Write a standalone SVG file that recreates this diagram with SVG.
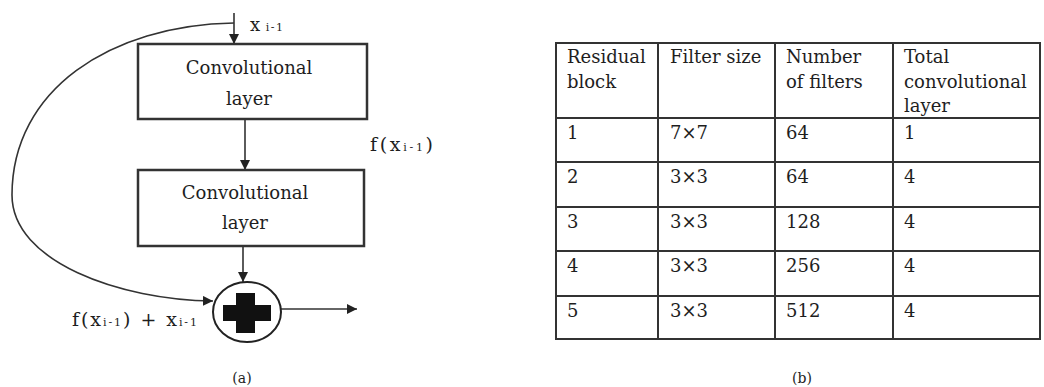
<svg xmlns="http://www.w3.org/2000/svg" width="1044" height="387" viewBox="0 0 1044 387">
<style>
  .t { font-family: "DejaVu Serif", "Liberation Serif", serif; fill: #1e1e1e; }
  .box { fill: #fff; stroke: #333; stroke-width: 2.5; }
  .ln { fill: none; stroke: #333; stroke-width: 1.6; }
  .grid { stroke: #333; stroke-width: 2; fill: none; }
</style>
<defs>
  <marker id="ah" viewBox="0 0 10 10" refX="10" refY="5" markerWidth="10" markerHeight="10" markerUnits="userSpaceOnUse" orient="auto">
    <path d="M0,0 L10,5 L0,10 z" fill="#222"/>
  </marker>
</defs>
<rect width="1044" height="387" fill="#fff"/>

<g id="connectors">
  <path class="ln" d="M234,13 L234,44" marker-end="url(#ah)"/>
  <path class="ln" d="M234,23 C110,25 12,90 12,195 C12,262 120,300 213,301" marker-end="url(#ah)"/>
  <path class="ln" d="M245,120 L245,170" marker-end="url(#ah)"/>
  <path class="ln" d="M243,246 L243,282" marker-end="url(#ah)"/>
  <path class="ln" d="M281,309 L357,309" marker-end="url(#ah)"/>
</g>

<g id="input-label">
  <text class="t" x="250" y="31" font-size="18" textLength="33" lengthAdjust="spacing">x<tspan font-size="11" dx="4">i-1</tspan></text>
</g>

<g id="conv1">
  <rect class="box" x="138" y="44" width="229" height="75"/>
  <text class="t" x="249" y="74" font-size="18" text-anchor="middle">Convolutional</text>
  <text class="t" x="249" y="105" font-size="18" text-anchor="middle">layer</text>
</g>

<g id="fx-label">
  <text class="t" x="370" y="151" font-size="19" textLength="63" lengthAdjust="spacing">f(x<tspan font-size="11">i-1</tspan>)</text>
</g>

<g id="conv2">
  <rect class="box" x="138" y="170" width="226" height="76"/>
  <text class="t" x="245" y="199" font-size="18" text-anchor="middle">Convolutional</text>
  <text class="t" x="245" y="229" font-size="18" text-anchor="middle">layer</text>
</g>

<g id="add">
  <ellipse cx="247" cy="312" rx="34" ry="30" fill="#fff" stroke="#222" stroke-width="2"/>
  <rect x="236" y="293" width="19" height="40" fill="#111"/>
  <rect x="223" y="305" width="48" height="16" fill="#111"/>
</g>

<g id="sum-label">
  <text class="t" x="72" y="326" font-size="19" textLength="125" lengthAdjust="spacing">f(x<tspan font-size="11">i-1</tspan>) + x<tspan font-size="11">i-1</tspan></text>
</g>

<text class="t" x="242" y="383" font-size="14" text-anchor="middle">(a)</text>

<g id="table">
  <rect class="grid" x="556" y="43" width="484" height="296"/>
  <line class="grid" x1="658" y1="43" x2="658" y2="339"/>
  <line class="grid" x1="775" y1="43" x2="775" y2="339"/>
  <line class="grid" x1="893" y1="43" x2="893" y2="339"/>
  <line class="grid" x1="556" y1="118" x2="1040" y2="118"/>
  <line class="grid" x1="556" y1="162" x2="1040" y2="162"/>
  <line class="grid" x1="556" y1="207" x2="1040" y2="207"/>
  <line class="grid" x1="556" y1="251" x2="1040" y2="251"/>
  <line class="grid" x1="556" y1="296" x2="1040" y2="296"/>

  <g class="t" font-size="18">
    <text x="567" y="63">Residual</text>
    <text x="567" y="88">block</text>
    <text x="670" y="63">Filter size</text>
    <text x="786" y="63">Number</text>
    <text x="786" y="88">of filters</text>
    <text x="904" y="63">Total</text>
    <text x="904" y="88">convolutional</text>
    <text x="904" y="112">layer</text>

    <text x="567" y="139">1</text><text x="670" y="139">7×7</text><text x="786" y="139">64</text><text x="904" y="139">1</text>
    <text x="567" y="183">2</text><text x="670" y="183">3×3</text><text x="786" y="183">64</text><text x="904" y="183">4</text>
    <text x="567" y="228">3</text><text x="670" y="228">3×3</text><text x="786" y="228">128</text><text x="904" y="228">4</text>
    <text x="567" y="272">4</text><text x="670" y="272">3×3</text><text x="786" y="272">256</text><text x="904" y="272">4</text>
    <text x="567" y="317">5</text><text x="670" y="317">3×3</text><text x="786" y="317">512</text><text x="904" y="317">4</text>
  </g>
</g>

<text class="t" x="802" y="383" font-size="14" text-anchor="middle">(b)</text>
</svg>
